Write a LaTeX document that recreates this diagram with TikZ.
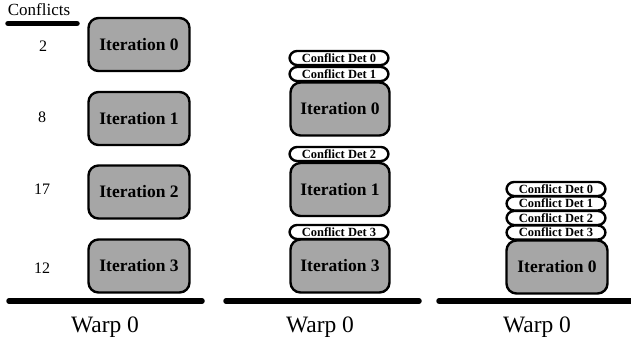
\documentclass[tikz,border=0pt]{standalone}
\usepackage{fontspec}
\setmainfont{Liberation Serif}
\definecolor{boxgray}{RGB}{166,166,166}
\begin{document}
\begin{tikzpicture}[x=1pt,y=-1pt,
  iter/.style={draw=black, line width=2.4pt, fill=boxgray, rounded corners=10pt,
    minimum width=101pt, minimum height=53pt, inner sep=0pt,
    font=\fontsize{17.5}{19}\selectfont\bfseries},
  det/.style={draw=black, line width=2.4pt, fill=white, rounded corners=7.5pt,
    minimum width=99pt, minimum height=14pt, inner sep=0pt,
    font=\fontsize{12.5}{13}\selectfont\bfseries},
  num/.style={font=\fontsize{16}{18}\selectfont},
  warp/.style={font=\fontsize{23.5}{26}\selectfont},
  base/.style={line width=5.5pt, line cap=round}]
\useasboundingbox (0,0) rectangle (631,346);
% column 1
\node[font=\fontsize{17}{19}\selectfont] (conf) at (39,10) {Conflicts};
\coordinate (cl) at (8,23.5); \coordinate (cr) at (77,23.5);
\draw[base] (cl) -- (cr);
\node[iter] (a0) at (139,44.5) {Iteration 0};
\node[iter] (a1) at (139,118.5) {Iteration 1};
\node[iter] (a2) at (139,192) {Iteration 2};
\node[iter] (a3) at (139,266) {Iteration 3};
\node[num] (n0) at (43,46) {2};
\node[num] (n1) at (42,117) {8};
\node[num] (n2) at (42,189) {17};
\node[num] (n3) at (42,268) {12};
\coordinate (b1l) at (9,301); \coordinate (b1r) at (202,301);
\draw[base] (b1l) -- (b1r);
\node[warp] (w1) at (105,327) {Warp 0};
% column 2
\node[det] (d20) at (339,58) {Conflict Det 0};
\node[det] (d21) at (339,74) {Conflict Det 1};
\node[iter,minimum width=99pt] (b0) at (340,109) {Iteration 0};
\node[det] (d22) at (339,154) {Conflict Det 2};
\node[iter,minimum width=99pt] (b1) at (340,189.5) {Iteration 1};
\node[det] (d23) at (339,232) {Conflict Det 3};
\node[iter,minimum width=99pt] (b3) at (340,266) {Iteration 3};
\coordinate (b2l) at (226,301); \coordinate (b2r) at (419,301);
\draw[base] (b2l) -- (b2r);
\node[warp] (w2) at (320,327) {Warp 0};
% column 3
\node[det] (d30) at (556,189) {Conflict Det 0};
\node[det] (d31) at (556,203.5) {Conflict Det 1};
\node[det] (d32) at (556,218) {Conflict Det 2};
\node[det] (d33) at (556,232.5) {Conflict Det 3};
\node[iter,minimum width=101pt] (c0) at (557,267) {Iteration 0};
\coordinate (b3l) at (439,301); \coordinate (b3r) at (634,301);
\draw[base] (b3l) -- (b3r);
\node[warp] (w3) at (537,327) {Warp 0};
\end{tikzpicture}
\end{document}
